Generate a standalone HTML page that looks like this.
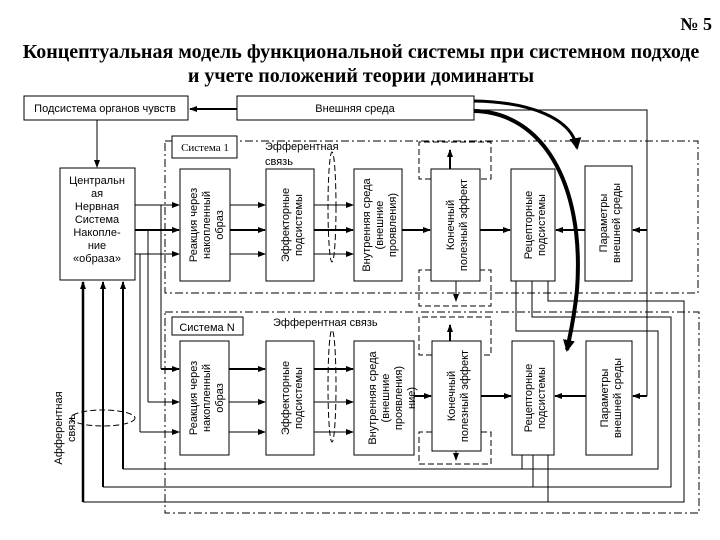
<!DOCTYPE html>
<html><head><meta charset="utf-8"><style>
body{margin:0;background:#fff}
svg{display:block}
text{font-family:"Liberation Sans",sans-serif;font-size:11px;fill:#000}
.t{font-family:"Liberation Serif",serif;font-weight:bold;font-size:20px}
</style></head><body>
<svg width="720" height="540" viewBox="0 0 720 540" xmlns="http://www.w3.org/2000/svg">
<defs>
<marker id="a" markerWidth="8" markerHeight="8" refX="7" refY="4" orient="auto" markerUnits="userSpaceOnUse"><path d="M0,1 L8,4 L0,7z"/></marker>
<marker id="b" markerWidth="14" markerHeight="14" refX="10" refY="7" orient="auto" markerUnits="userSpaceOnUse"><path d="M0,1 L12,7 L0,13z"/></marker>
</defs>
<text class="t" x="712" y="30" text-anchor="end" style="font-size:18px">№ 5</text>
<text class="t" x="361" y="58" text-anchor="middle">Концептуальная модель функциональной системы при системном подходе</text>
<text class="t" x="361" y="82" text-anchor="middle">и учете положений теории доминанты</text>
<g fill="none" stroke="#000">
<rect x="24" y="96" width="164" height="24"/>
<rect x="237" y="96" width="237" height="24"/>
<rect x="60" y="168" width="75" height="112"/>
<rect x="165" y="141" width="533" height="152" stroke-dasharray="8,3,2,3"/>
<rect x="165" y="312" width="534" height="201" stroke-dasharray="8,3,2,3"/>
<rect x="172" y="136" width="65" height="22" fill="#fff"/>
<rect x="172" y="317" width="71" height="18"/>
<rect x="180" y="169" width="50" height="112"/><rect x="266" y="169" width="48" height="112"/>
<rect x="354" y="169" width="48" height="112"/><rect x="431" y="169" width="49" height="112"/>
<rect x="511" y="169" width="44" height="112"/><rect x="585" y="166" width="47" height="115"/>
<rect x="180" y="341" width="49" height="114"/><rect x="266" y="341" width="48" height="114"/>
<rect x="354" y="341" width="60" height="114"/><rect x="432" y="341" width="49" height="110"/>
<rect x="512" y="341" width="42" height="114"/><rect x="586" y="341" width="46" height="114"/>
<g stroke-dasharray="6,3">
<path d="M431,179 H419 V142 H491 V179 H480"/><path d="M431,270 H419 V306 H491 V270 H480"/>
<path d="M432,355 H419 V317 H491 V355 H481"/><path d="M432,432 H419 V464 H491 V432 H481"/>
<ellipse cx="332" cy="207" rx="4" ry="55"/><ellipse cx="332" cy="386" rx="4" ry="56"/>
<ellipse cx="103" cy="418" rx="32" ry="8"/>
</g>
<line x1="237" y1="109" x2="190" y2="109" stroke-width="2" marker-end="url(#a)"/>
<line x1="97" y1="120" x2="97" y2="167" marker-end="url(#a)"/>
<line x1="135" y1="205" x2="179" y2="205" marker-end="url(#a)"/>
<line x1="135" y1="230" x2="179" y2="230" stroke-width="2" marker-end="url(#a)"/>
<line x1="135" y1="254" x2="179" y2="254" marker-end="url(#a)"/>
<path d="M161,205 V369"/><path d="M148,230 V402"/><path d="M140,254 V432"/>
<line x1="161" y1="369" x2="179" y2="369" stroke-width="2" marker-end="url(#a)"/>
<line x1="148" y1="402" x2="179" y2="402" marker-end="url(#a)"/>
<line x1="140" y1="432" x2="179" y2="432" marker-end="url(#a)"/>
<line x1="230" y1="205" x2="265" y2="205" marker-end="url(#a)"/>
<line x1="230" y1="230" x2="265" y2="230" stroke-width="2" marker-end="url(#a)"/>
<line x1="230" y1="254" x2="265" y2="254" marker-end="url(#a)"/>
<line x1="314" y1="205" x2="353" y2="205" marker-end="url(#a)"/>
<line x1="314" y1="230" x2="353" y2="230" stroke-width="2" marker-end="url(#a)"/>
<line x1="314" y1="254" x2="353" y2="254" marker-end="url(#a)"/>
<line x1="402" y1="230" x2="430" y2="230" stroke-width="2" marker-end="url(#a)"/>
<line x1="480" y1="230" x2="510" y2="230" stroke-width="2" marker-end="url(#a)"/>
<line x1="585" y1="230" x2="556" y2="230" stroke-width="2" marker-end="url(#a)"/>
<line x1="647" y1="230" x2="633" y2="230" stroke-width="2" marker-end="url(#a)"/>
<line x1="450" y1="169" x2="450" y2="150" stroke-width="2" marker-end="url(#a)"/>
<line x1="456" y1="281" x2="456" y2="301" marker-end="url(#a)"/>
<line x1="229" y1="369" x2="265" y2="369" stroke-width="2" marker-end="url(#a)"/>
<line x1="229" y1="402" x2="265" y2="402" marker-end="url(#a)"/>
<line x1="229" y1="432" x2="265" y2="432" marker-end="url(#a)"/>
<line x1="314" y1="369" x2="353" y2="369" stroke-width="2" marker-end="url(#a)"/>
<line x1="314" y1="402" x2="353" y2="402" marker-end="url(#a)"/>
<line x1="314" y1="432" x2="353" y2="432" marker-end="url(#a)"/>
<line x1="414" y1="396" x2="431" y2="396" stroke-width="2" marker-end="url(#a)"/>
<line x1="481" y1="396" x2="511" y2="396" stroke-width="2" marker-end="url(#a)"/>
<line x1="586" y1="396" x2="555" y2="396" stroke-width="2" marker-end="url(#a)"/>
<line x1="647" y1="396" x2="633" y2="396" stroke-width="2" marker-end="url(#a)"/>
<line x1="450" y1="341" x2="450" y2="325" stroke-width="2" marker-end="url(#a)"/>
<line x1="456" y1="451" x2="456" y2="460" marker-end="url(#a)"/>
<path d="M474,110 H647 V396"/>
<path d="M516,281 V331 H658 V469 H123"/>
<path d="M532,281 V317 H671 V487 H103"/>
<path d="M548,281 V301 H684 V502 H83"/>
<path d="M522,455 V469 M533,455 V487 M548,455 V502"/>
<line x1="123" y1="469" x2="123" y2="282" stroke-width="2" marker-end="url(#a)"/>
<line x1="103" y1="487" x2="103" y2="282" stroke-width="2" marker-end="url(#a)"/>
<line x1="83" y1="502" x2="83" y2="282" stroke-width="2.5" marker-end="url(#a)"/>
<path d="M474,101 C530,102 572,118 577,148" stroke-width="3" marker-end="url(#b)"/>
<path d="M474,111 C540,112 585,180 577,290 C574,320 570,335 567,350" stroke-width="4" marker-end="url(#b)"/>
</g>
<text x="105" y="112" text-anchor="middle">Подсистема органов чувств</text>
<text x="355" y="112" text-anchor="middle">Внешняя среда</text>
<text x="205" y="151" text-anchor="middle" style="font-family:'Liberation Serif',serif;font-size:11px">Система 1</text>
<text x="207" y="331" text-anchor="middle">Система N</text>
<text x="265" y="150">Эфферентная</text>
<text x="265" y="165">связь</text>
<text x="273" y="326">Эфферентная связь</text>
<g text-anchor="middle" font-size="11.5">
<text x="97" y="184">Центральн</text><text x="97" y="197">ая</text><text x="97" y="210">Нервная</text>
<text x="97" y="223">Система</text><text x="97" y="236">Накопле-</text><text x="97" y="249">ние</text><text x="97" y="262">«образа»</text>
</g>
<g text-anchor="middle">
<g transform="translate(205,225) rotate(-90)"><text y="-8">Реакция через</text><text y="5">накопленный</text><text y="18">образ</text></g>
<g transform="translate(290,225) rotate(-90)"><text y="-1">Эффекторные</text><text y="12">подсистемы</text></g>
<g transform="translate(378,225) rotate(-90)"><text y="-8">Внутренняя среда</text><text y="5">(внешние</text><text y="18">проявления)</text></g>
<g transform="translate(455,225) rotate(-90)"><text y="-1">Конечный</text><text y="12">полезный эффект</text></g>
<g transform="translate(533,225) rotate(-90)"><text y="-1">Рецепторные</text><text y="12">подсистемы</text></g>
<g transform="translate(608,223) rotate(-90)"><text y="-1">Параметры</text><text y="12">внешней среды</text></g>
<g transform="translate(205,398) rotate(-90)"><text y="-8">Реакция через</text><text y="5">накопленный</text><text y="18">образ</text></g>
<g transform="translate(290,398) rotate(-90)"><text y="-1">Эффекторные</text><text y="12">подсистемы</text></g>
<g transform="translate(384,398) rotate(-90)"><text y="-8">Внутренняя среда</text><text y="5">(внешние</text><text y="18">проявления)</text><text y="31">ние)</text></g>
<g transform="translate(456,396) rotate(-90)"><text y="-1">Конечный</text><text y="12">полезный эффект</text></g>
<g transform="translate(533,398) rotate(-90)"><text y="-1">Рецепторные</text><text y="12">подсистемы</text></g>
<g transform="translate(609,398) rotate(-90)"><text y="-1">Параметры</text><text y="12">внешней среды</text></g>
<g transform="translate(63,428) rotate(-90)"><text y="-1">Афферентная</text><text y="12">связь</text></g>
</g>
</svg>
</body></html>
